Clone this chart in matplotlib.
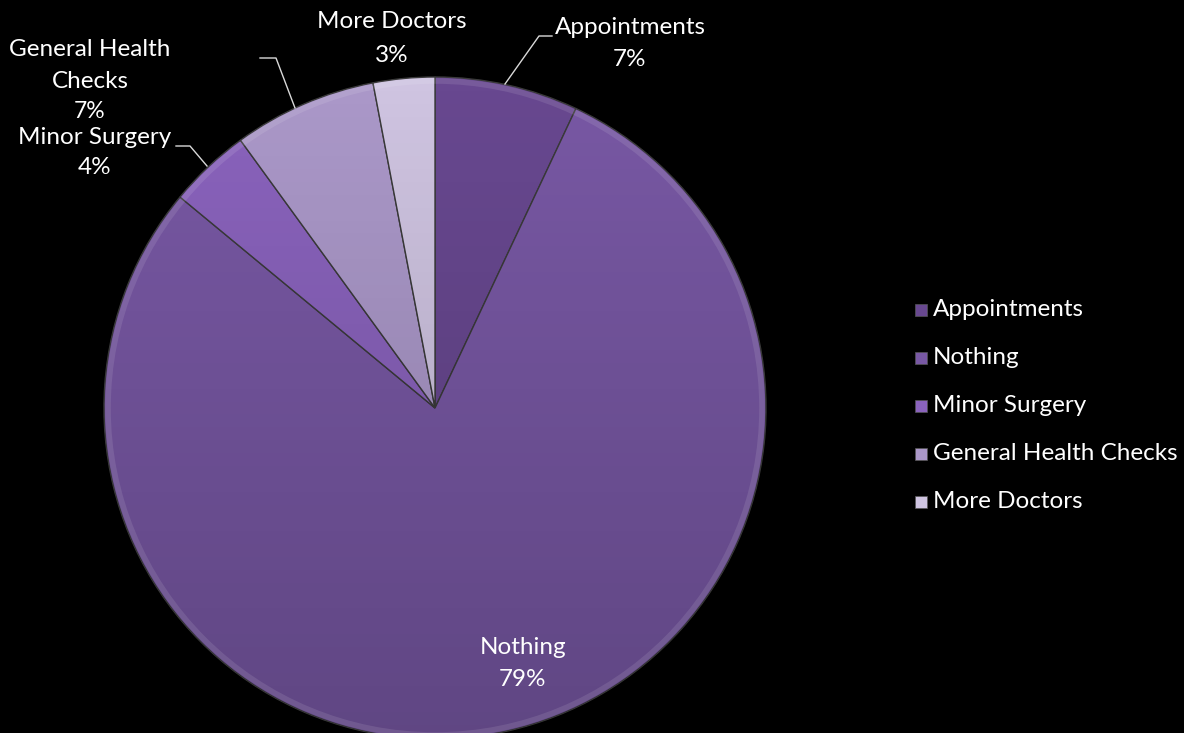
import matplotlib
matplotlib.use("Agg")
import matplotlib.pyplot as plt
import numpy as np
from matplotlib.patches import Circle, Rectangle

categories = ["Appointments", "Nothing", "Minor Surgery", "General Health Checks", "More Doctors"]
values = [7, 79, 4, 7, 3]
pct_labels = ["7%", "79%", "4%", "7%", "3%"]
colors = ["#684890", "#7858a4", "#8a63bd", "#ab98c9", "#cfc4e1"]

W, H = 1184, 733
fig = plt.figure(figsize=(W / 100, H / 100), dpi=100, facecolor="black")
ax = fig.add_axes([0, 0, 1, 1])
ax.set_facecolor("black")

cx, cy, r = 435, H - 408, 331
wedges, _ = ax.pie(values, colors=colors, startangle=90, counterclock=False,
                   center=(cx, cy), radius=r, frame=True,
                   wedgeprops=dict(edgecolor="#3a3a3a", linewidth=1.0))
ax.set_xlim(0, W)
ax.set_ylim(0, H)
ax.set_aspect("equal")
ax.axis("off")

# subtle vertical shading (lighter at top, darker at bottom)
grad = np.linspace(0, 1, 256).reshape(-1, 1)
rgba = np.zeros((256, 1, 4))
rgba[..., 3] = 0.2 * grad
img = ax.imshow(rgba, extent=(cx - r, cx + r, cy - r, cy + r), origin="upper",
                aspect="auto", zorder=3)
img.set_clip_path(Circle((cx, cy), r, transform=ax.transData))
# bevel highlight ring
ax.add_patch(Circle((cx, cy), r - 4, fill=False, edgecolor="white", alpha=0.10,
                    linewidth=4, zorder=4))
ax.set_xlim(0, W)
ax.set_ylim(0, H)

font = "Lato"
fs = 17.5
tc = "white"

def lab(x, y, s, ha="center", size=fs):
    ax.text(x, H - y, s, color=tc, fontsize=size, family=font, ha=ha, va="center",
            zorder=6)

def line(pts):
    xs = [p[0] for p in pts]
    ys = [H - p[1] for p in pts]
    ax.plot(xs, ys, color="#d9d9d9", linewidth=1.0, zorder=6)

# slice labels
lab(392, 22, categories[4]); lab(392, 55, pct_labels[4])
lab(630, 27, categories[0]); lab(630, 59, pct_labels[0])
line([(505, 84), (539, 36), (552, 36)])
lab(90, 50, "General Health"); lab(90, 82, "Checks"); lab(90, 112, pct_labels[3], size=16.5)
line([(295, 108), (276, 58), (260, 58)])
lab(95, 137, categories[2]); lab(95, 167, pct_labels[2])
line([(207, 166), (190, 146), (176, 146)])
lab(523, 647, categories[1]); lab(523, 680, pct_labels[1])

# legend
for i, (c, name) in enumerate(zip(colors, categories)):
    y = 310 + 48 * i
    ax.add_patch(Rectangle((915, H - y - 6), 12, 12, facecolor=c,
                           edgecolor="#555555", linewidth=0.5, zorder=6))
    ax.text(933, H - y, name, color=tc, fontsize=fs, family=font,
            ha="left", va="center", zorder=6)

fig.savefig("out.png", dpi=100, facecolor="black")
